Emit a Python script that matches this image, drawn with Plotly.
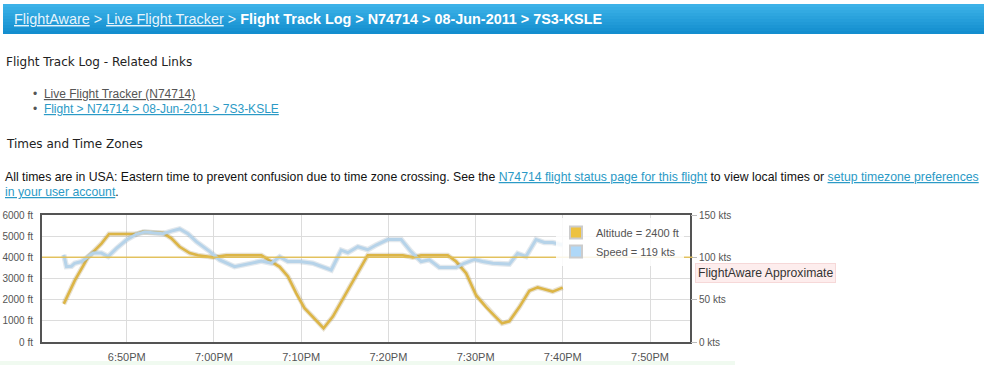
import plotly.graph_objects as go

DAY = "2011-06-08 "

alt_times = ["18:42:47", "18:44:02", "18:45:00", "18:45:32", "18:47:06", "18:47:58", "18:51:07",
             "18:51:50", "18:54:10", "18:55:07", "18:56:04", "18:57:13", "18:58:10", "18:59:51",
             "19:01:25", "19:05:26", "19:06:35", "19:07:32", "19:08:29", "19:09:26", "19:10:23",
             "19:11:20", "19:12:34", "19:13:38", "19:15:10", "19:16:30", "19:17:38", "19:21:39",
             "19:22:48", "19:23:45", "19:26:48", "19:27:46", "19:28:55", "19:30:04", "19:31:12",
             "19:32:09", "19:33:02", "19:33:52", "19:35:01", "19:36:10", "19:37:07", "19:37:53",
             "19:38:50", "19:39:59"]
altitude_ft = [1800, 2900, 3600, 4000, 4650, 5100, 5100,
               5200, 5150, 4900, 4500, 4200, 4100, 4000,
               4100, 4100, 3800, 3550, 3100, 2300, 1600,
               1200, 650, 1200, 2300, 3300, 4100, 4100,
               4000, 4100, 4100, 3800, 3250, 2200, 1650,
               1250, 880, 980, 1650, 2420, 2580, 2490,
               2380, 2570]

spd_times = ["18:42:47", "18:43:05", "18:43:40", "18:44:02", "18:44:49", "18:45:23", "18:46:08",
             "18:47:06", "18:47:52", "18:48:49", "18:49:58", "18:51:07", "18:52:04", "18:53:01",
             "18:54:10", "18:55:07", "18:56:04", "18:57:01", "18:57:59", "18:59:30", "19:00:39",
             "19:02:22", "19:04:05", "19:05:26", "19:06:35", "19:07:32", "19:08:29", "19:09:49",
             "19:11:20", "19:12:29", "19:13:27", "19:14:35", "19:15:21", "19:16:30", "19:17:38",
             "19:18:36", "19:19:56", "19:21:28", "19:22:37", "19:23:45", "19:24:42", "19:25:51",
             "19:27:46", "19:28:43", "19:29:52", "19:30:49", "19:31:58", "19:33:52", "19:34:49",
             "19:35:47", "19:36:56", "19:37:53", "19:38:50", "19:39:59"]
speed_kts = [103, 89, 89.5, 93, 95, 99, 105,
             105, 101, 110.5, 120.5, 127.5, 130, 129,
             128, 131, 133.5, 128, 118.5, 107, 97,
             89, 93, 95.5, 93, 100.5, 95, 95,
             93, 89, 85, 108.5, 105.5, 112.5, 109,
             114.5, 121, 121, 106.5, 95, 97, 88,
             88, 93, 97.5, 95, 93, 92, 104.5,
             101, 121, 117.5, 117.5, 114.5]

alt_ticks = [0, 1000, 2000, 3000, 4000, 5000, 6000]
alt_labels = [f"{v} ft" for v in alt_ticks]
spd_ticks = [0, 50, 100, 150]
spd_labels = [f"{v} kts" for v in spd_ticks]
approx_level_ft = 4000
legend_alt = "Altitude = 2400 ft"
legend_spd = "Speed = 119 kts"

# ---- layout geometry (pixels) ----
W, H = 984, 365
PL, PR, PT, PB = 42, 690, 215, 342
PW, PH = PR - PL, PB - PT


def px(x):
    return (x - PL) / PW


def py(y):
    return (PB - y) / PH


ta = [DAY + t for t in alt_times]
ts = [DAY + t for t in spd_times]

fig = go.Figure()
# shadows
fig.add_trace(go.Scatter(x=ta, y=altitude_ft, mode="lines", showlegend=False, hoverinfo="skip",
                         line=dict(color="rgba(150,120,40,0.22)", width=5)))
fig.add_trace(go.Scatter(x=ta, y=altitude_ft, mode="lines", showlegend=False,
                         line=dict(color="#dcb546", width=2.6)))
fig.add_trace(go.Scatter(x=ts, y=speed_kts, yaxis="y2", mode="lines", showlegend=False, hoverinfo="skip",
                         line=dict(color="rgba(110,140,165,0.2)", width=5.5)))
fig.add_trace(go.Scatter(x=ts, y=speed_kts, yaxis="y2", mode="lines", showlegend=False,
                         line=dict(color="#b6d3e9", width=3)))
# legend entries
fig.add_trace(go.Scatter(x=[None], y=[None], mode="markers", name=legend_alt,
                         marker=dict(symbol="square", size=14, color="#edc240",
                                     line=dict(color="#cccccc", width=1))))
fig.add_trace(go.Scatter(x=[None], y=[None], mode="markers", name=legend_spd,
                         marker=dict(symbol="square", size=14, color="#afd8f8",
                                     line=dict(color="#cccccc", width=1))))

shapes = []
# header gradient bar
top, bot = 4, 34
n = 10
for i in range(n):
    y0 = top + (bot - top) * i / n
    y1 = top + (bot - top) * (i + 1) / n
    f = i / (n - 1)
    r = int(0x3c + (0x14 - 0x3c) * f)
    g = int(0xb2 + (0x8e - 0xb2) * f)
    b = int(0xe8 + (0xcf - 0xe8) * f)
    shapes.append(dict(type="rect", xref="paper", yref="paper", x0=px(3), x1=px(984),
                       y0=py(y1), y1=py(y0), line=dict(width=0),
                       fillcolor=f"rgb({r},{g},{b})", layer="below"))
# faint band at the bottom
shapes.append(dict(type="rect", xref="paper", yref="paper", x0=px(0), x1=px(735),
                   y0=py(365), y1=py(361), line=dict(width=0), fillcolor="#f0faf0", layer="below"))
# approximate reference line
shapes.append(dict(type="line", xref="paper", yref="y", x0=0, x1=1.004,
                   y0=approx_level_ft, y1=approx_level_ft,
                   line=dict(color="rgba(226,190,80,0.9)", width=1.5), layer="above"))

HEAD = "Liberation Sans"
BODY = "Liberation Sans"
SECT = "DejaVu Sans"
ann = []
ann.append(dict(x=px(12), y=py(19), xref="paper", yref="paper", xanchor="left", yanchor="middle",
                showarrow=False, font=dict(family=HEAD, size=14.4, color="#ffffff"),
                text="<span style='color:#e6f4fc'><u>FlightAware</u> &gt; <u>Live Flight Tracker</u> &gt; </span>"
                     "<b>Flight Track Log &gt; N74714 &gt; 08-Jun-2011 &gt; 7S3-KSLE</b>"))
ann.append(dict(x=px(4), y=py(62), xref="paper", yref="paper", xanchor="left", yanchor="middle",
                showarrow=False, font=dict(family=SECT, size=12, color="#222222"),
                text="Flight Track Log - Related Links"))
ann.append(dict(x=px(31), y=py(94), xref="paper", yref="paper", xanchor="left", yanchor="middle",
                showarrow=False, font=dict(family=BODY, size=12, color="#555555"),
                text="•  <u>Live Flight Tracker (N74714)</u>"))
ann.append(dict(x=px(31), y=py(109), xref="paper", yref="paper", xanchor="left", yanchor="middle",
                showarrow=False, font=dict(family=BODY, size=12, color="#555555"),
                text="•  <span style='color:#2b9ac6'><u>Flight &gt; N74714 &gt; 08-Jun-2011 &gt; 7S3-KSLE</u></span>"))
ann.append(dict(x=px(4), y=py(144), xref="paper", yref="paper", xanchor="left", yanchor="middle",
                showarrow=False, font=dict(family=SECT, size=12, color="#222222"),
                text="Times and Time Zones"))
LINK = "#2b9ac6"
ann.append(dict(x=px(3), y=py(177), xref="paper", yref="paper", xanchor="left", yanchor="middle",
                showarrow=False, font=dict(family=BODY, size=12.25, color="#111111"),
                text="All times are in USA: Eastern time to prevent confusion due to time zone crossing. See the "
                     f"<span style='color:{LINK}'><u>N74714 flight status page for this flight</u></span>"
                     " to view local times or "
                     f"<span style='color:{LINK}'><u>setup timezone preferences</u></span>"))
ann.append(dict(x=px(3), y=py(192), xref="paper", yref="paper", xanchor="left", yanchor="middle",
                showarrow=False, font=dict(family=BODY, size=12.25, color="#111111"),
                text=f"<span style='color:{LINK}'><u>in your user account</u></span>."))
ann.append(dict(x=px(695), y=py(273), xref="paper", yref="paper", xanchor="left", yanchor="middle",
                showarrow=False, font=dict(family=BODY, size=12.2, color="#333333"),
                bgcolor="#fdeded", bordercolor="#f6d8d8", borderwidth=1, borderpad=2,
                text="FlightAware Approximate"))

fig.update_layout(
    width=W, height=H,
    margin=dict(l=PL, r=W - PR, t=PT, b=H - PB, pad=0, autoexpand=False),
    paper_bgcolor="white", plot_bgcolor="white",
    font=dict(family="Liberation Sans", size=10, color="#545454"),
    shapes=shapes, annotations=ann,
    showlegend=True,
    legend=dict(x=px(556), y=py(218), xanchor="left", yanchor="top",
                bgcolor="rgba(255,255,255,0.85)", borderwidth=0,
                font=dict(family="Liberation Sans", size=11, color="#545454"),
                tracegroupgap=0, itemsizing="constant"),
    xaxis=dict(type="date", range=[DAY + "18:40:17", DAY + "19:54:35"],
               tick0=DAY + "18:50:00", dtick=600000, tickformat="%-I:%M%p",
               showgrid=True, gridcolor="#dcdcdc", gridwidth=1,
               showline=True, mirror=True, linecolor="#545454", linewidth=2,
               ticks="", ticklabelstandoff=4, zeroline=False, automargin=False,
               tickfont=dict(size=11, color="#545454")),
    yaxis=dict(range=[0, 6000], tickvals=alt_ticks, ticktext=alt_labels,
               showgrid=True, gridcolor="#dcdcdc", gridwidth=1,
               showline=True, mirror=True, linecolor="#545454", linewidth=2,
               zeroline=False, ticks="", ticklabelstandoff=5, automargin=False,
               tickfont=dict(size=10, color="#545454")),
    yaxis2=dict(range=[0, 150], tickvals=spd_ticks, ticktext=spd_labels, overlaying="y", side="right",
                showgrid=False, zeroline=False, showline=False, automargin=False,
                ticks="outside", ticklen=6, tickcolor="#bbbbbb",
                tickfont=dict(size=10, color="#545454")),
)

fig.write_html("out.html")
